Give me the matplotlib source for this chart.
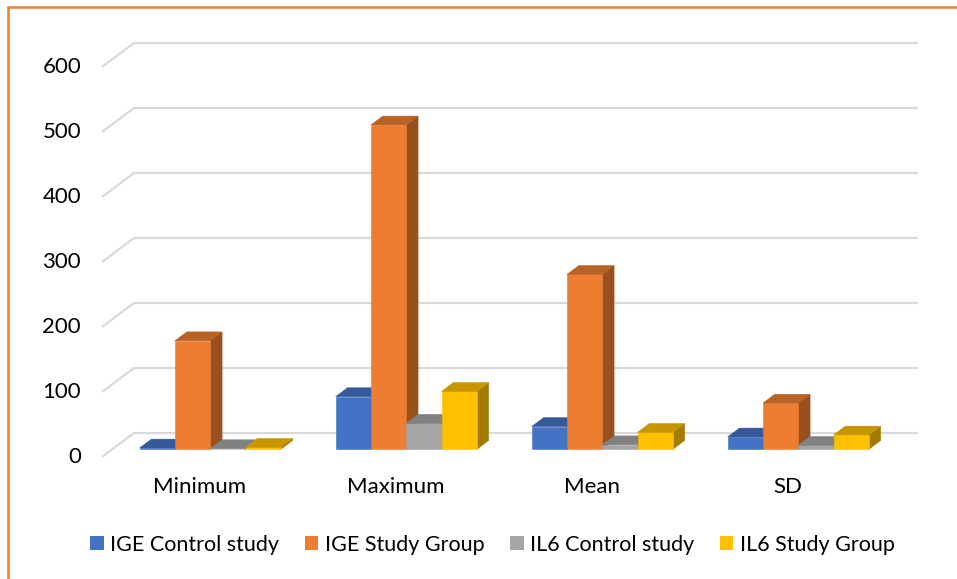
import numpy as np
import matplotlib.pyplot as plt
from matplotlib.patches import Polygon, Rectangle, Patch

plt.rcParams['font.family'] = ['Lato', 'DejaVu Sans']

# data
categories = ['Minimum', 'Maximum', 'Mean', 'SD']
series_names = ['IGE Control study', 'IGE Study Group', 'IL6 Control study', 'IL6 Study Group']
ige_control = [2, 81, 35, 19]
ige_study = [167, 499, 269, 71]
il6_control = [1, 40, 7, 6]
il6_study = [3, 89, 26, 22]
yticks = [0, 100, 200, 300, 400, 500, 600]

colors = ['#4472C4', '#ED7D31', '#A5A5A5', '#FFC000']

# fake 3d geometry (oblique projection), in data units
DX, DY = 0.163, 36.9      # depth offset of the back wall
F1, F2 = 0.32, 0.69       # bar front / back depth fraction
BW = 0.18                 # bar width
MARGIN = 0.14

def shade(c, k):
    r, g, b = plt.matplotlib.colors.to_rgb(c)
    return (r * k, g * k, b * k)

fig = plt.figure(figsize=(9.57, 5.79), dpi=100)
ax = fig.add_axes([0, 0, 1, 1])
ax.set_xlim(-102 / 196, (957 - 102) / 196)
ax.set_ylim((457 - 579) / 0.65, 457 / 0.65)
ax.axis('off')

# gridlines: short diagonal on the side wall + line on the back wall
n = len(categories)
for v in yticks:
    ax.plot([0, DX, n + DX], [v, v + DY, v + DY], color='#d9d9d9', lw=1.6, zorder=1,
            solid_capstyle='butt')
    ax.text(-0.107, v, str(v), ha='right', va='center', fontsize=16, color='#000000')

series = [ige_control, ige_study, il6_control, il6_study]
ox, oy = (F2 - F1) * DX, (F2 - F1) * DY
for c in range(n):
    for i, vals in enumerate(series):
        x0 = c + F1 * DX + MARGIN + i * BW
        y0 = F1 * DY
        h = vals[c]
        col = colors[i]
        ax.bar(x0, h, width=BW, bottom=y0, align='edge', color=col,
               edgecolor=col, lw=0.4, zorder=3 + c * 10 + i * 2)
        top = [(x0, y0 + h), (x0 + BW, y0 + h), (x0 + BW + ox, y0 + h + oy), (x0 + ox, y0 + h + oy)]
        side = [(x0 + BW, y0), (x0 + BW + ox, y0 + oy), (x0 + BW + ox, y0 + h + oy), (x0 + BW, y0 + h)]
        ax.add_patch(Polygon(side, closed=True, fc=shade(col, 0.64), ec=shade(col, 0.64), lw=0.4,
                             zorder=2 + c * 10 + i * 2))
        ax.add_patch(Polygon(top, closed=True, fc=shade(col, 0.78), ec=shade(col, 0.78), lw=0.4,
                             zorder=3 + c * 10 + i * 2))

for c, name in enumerate(categories):
    ax.text(c + 0.5, -46, name, ha='center', va='center', fontsize=16, color='#000000')

handles = [Patch(facecolor=col, edgecolor='none') for col in colors]
fig.legend(handles, series_names, loc='center', bbox_to_anchor=(0.5147, 1 - 545 / 579),
           ncol=4, frameon=False, fontsize=15.5, handlelength=0.62, handleheight=0.62,
           handletextpad=0.3, columnspacing=1.2, borderpad=0)

# chart area border (only top and left visible)
fig.patches.append(Rectangle((8 / 957, -0.5), 2, 0.5 + 1 - 7 / 579, transform=fig.transFigure,
                             fill=False, ec='#ED7D31', lw=1.8))

fig.savefig('out.png', dpi=100)
